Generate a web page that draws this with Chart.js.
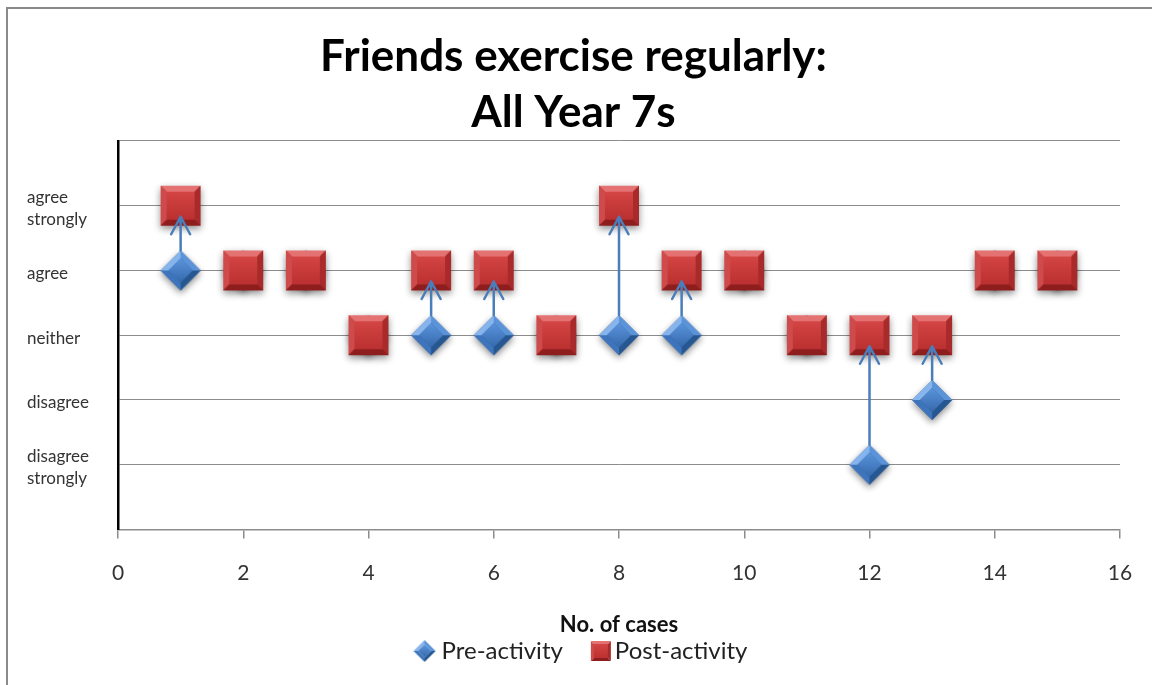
<!DOCTYPE html>
<html lang="en">
<head>
<meta charset="UTF-8">
<title>Friends exercise regularly: All Year 7s</title>
<script src="https://cdn.jsdelivr.net/npm/chart.js@4.4.0/dist/chart.umd.min.js"></script>
<style>
  html, body { margin: 0; padding: 0; background: #ffffff; }
  #wrap { width: 1152px; height: 685px; position: relative; }
</style>
</head>
<body>
<div id="wrap"><canvas id="casesChart" width="1152" height="685"></canvas></div>
<script>
// --- data ---
const caseNumbers = [1, 2, 3, 4, 5, 6, 7, 8, 9, 10, 11, 12, 13, 14, 15];
const preActivity = [4, 4, 4, 3, 3, 3, 3, 3, 3, 4, 3, 1, 2, 4, 4];
const postActivity = [5, 4, 4, 3, 4, 4, 3, 5, 4, 4, 3, 3, 3, 4, 4];
const levelLabels = ['', ['disagree', 'strongly'], 'disagree', 'neither', 'agree', ['agree', 'strongly'], ''];
const titleLines = ['Friends exercise regularly:', 'All Year 7s'];
const seriesNames = ['Pre-activity', 'Post-activity'];

const FONT = "Lato, 'Open Sans', sans-serif";

// bevelled marker images (Excel-style 3D look)
function poly(g, pts, fill) {
  g.beginPath();
  g.moveTo(pts[0][0], pts[0][1]);
  for (let i = 1; i < pts.length; i++) g.lineTo(pts[i][0], pts[i][1]);
  g.closePath();
  g.fillStyle = fill;
  g.fill();
}

function makeSquare(s, withShadow) {
  const pad = withShadow ? Math.round(s * 0.3) : 1;
  const c = document.createElement('canvas');
  c.width = c.height = s + pad * 2;
  const g = c.getContext('2d');
  const x0 = pad, y0 = pad, b = Math.round(s * 0.15);
  if (withShadow) {
    g.save();
    g.shadowColor = 'rgba(0,0,0,0.45)';
    g.shadowBlur = s * 0.18;
    g.shadowOffsetY = s * 0.08;
    g.fillStyle = '#9c2424';
    g.fillRect(x0, y0, s, s);
    g.restore();
  }
  poly(g, [[x0, y0], [x0 + s, y0], [x0 + s - b, y0 + b], [x0 + b, y0 + b]], '#e57272');
  poly(g, [[x0, y0], [x0 + b, y0 + b], [x0 + b, y0 + s - b], [x0, y0 + s]], '#cf4a4a');
  poly(g, [[x0 + s, y0], [x0 + s, y0 + s], [x0 + s - b, y0 + s - b], [x0 + s - b, y0 + b]], '#a82a2a');
  poly(g, [[x0, y0 + s], [x0 + b, y0 + s - b], [x0 + s - b, y0 + s - b], [x0 + s, y0 + s]], '#8e1e1e');
  const grad = g.createLinearGradient(0, y0 + b, 0, y0 + s - b);
  grad.addColorStop(0, '#d44545');
  grad.addColorStop(1, '#bb3030');
  g.fillStyle = grad;
  g.fillRect(x0 + b, y0 + b, s - 2 * b, s - 2 * b);
  return c;
}

function makeDiamond(h, withShadow) {
  const pad = withShadow ? Math.round(h * 0.5) : 1;
  const c = document.createElement('canvas');
  c.width = c.height = 2 * h + pad * 2;
  const g = c.getContext('2d');
  const cx = pad + h, cy = pad + h, k = h * 0.6;
  const T = [cx, cy - h], R = [cx + h, cy], B = [cx, cy + h], L = [cx - h, cy];
  const t = [cx, cy - k], r = [cx + k, cy], bb = [cx, cy + k], l = [cx - k, cy];
  if (withShadow) {
    g.save();
    g.shadowColor = 'rgba(0,0,0,0.45)';
    g.shadowBlur = h * 0.35;
    g.shadowOffsetY = h * 0.15;
    poly(g, [T, R, B, L], '#2d5f9f');
    g.restore();
  }
  poly(g, [L, T, t, l], '#86b4ec');
  poly(g, [T, R, r, t], '#5b93d8');
  poly(g, [L, l, bb, B], '#3d74bb');
  poly(g, [R, B, bb, r], '#275791');
  const grad = g.createLinearGradient(0, cy - k, 0, cy + k);
  grad.addColorStop(0, '#5a94dc');
  grad.addColorStop(1, '#3669ad');
  poly(g, [t, r, bb, l], grad);
  return c;
}

// legend symbols sit a bit right of their box centre
function shifted(img, s) {
  const c = document.createElement('canvas');
  c.width = img.width + 2 * s;
  c.height = img.height;
  c.getContext('2d').drawImage(img, 2 * s, 0);
  return c;
}

const squareImg = makeSquare(40, true);
const diamondImg = makeDiamond(20, true);
const squareLegend = shifted(makeSquare(20, false), 13);
const diamondLegend = shifted(makeDiamond(11, false), 10);

// frame + arrows from pre to post
const framePlugin = {
  id: 'frame',
  beforeDraw(chart) {
    const ctx = chart.ctx;
    ctx.save();
    ctx.strokeStyle = '#8a8a8a';
    ctx.lineWidth = 2;
    ctx.beginPath();
    ctx.moveTo(7, chart.height);
    ctx.lineTo(7, 8);
    ctx.lineTo(chart.width, 8);
    ctx.stroke();
    ctx.restore();
  }
};

const arrowPlugin = {
  id: 'arrows',
  afterDatasetsDraw(chart) {
    const { ctx, scales: { x, y } } = chart;
    ctx.save();
    ctx.strokeStyle = '#4a7ebb';
    ctx.lineWidth = 2.5;
    ctx.lineCap = 'round';
    ctx.lineJoin = 'round';
    caseNumbers.forEach((c, i) => {
      if (preActivity[i] === postActivity[i]) return;
      const px = x.getPixelForValue(c);
      const y0 = y.getPixelForValue(preActivity[i]) - 20;
      const y1 = y.getPixelForValue(postActivity[i]) + 11;
      ctx.beginPath();
      ctx.moveTo(px, y0);
      ctx.lineTo(px, y1);
      ctx.moveTo(px - 9.5, y1 + 17.5);
      ctx.lineTo(px, y1);
      ctx.lineTo(px + 9.5, y1 + 17.5);
      ctx.stroke();
    });
    ctx.restore();
  }
};

new Chart(document.getElementById('casesChart'), {
  type: 'scatter',
  data: {
    datasets: [
      {
        label: seriesNames[1],
        data: caseNumbers.map((c, i) => ({ x: c, y: postActivity[i] })),
        pointStyle: squareImg,
        pointRadius: 20,
        order: 0
      },
      {
        label: seriesNames[0],
        data: caseNumbers.map((c, i) => ({ x: c, y: preActivity[i] })),
        pointStyle: diamondImg,
        pointRadius: 20,
        order: 1
      }
    ]
  },
  options: {
    responsive: false,
    animation: false,
    layout: { padding: { left: 27, right: 32, top: 0, bottom: 12 } },
    plugins: {
      tooltip: { enabled: false },
      title: {
        display: true,
        text: titleLines,
        color: '#000',
        font: { family: FONT, size: 44, weight: 'bold', lineHeight: 1.2727 },
        padding: { top: 29, bottom: 0 }
      },
      legend: {
        position: 'bottom',
        labels: {
          usePointStyle: true,
          pointStyleWidth: 30,
          color: '#222',
          font: { family: FONT, size: 24 },
          padding: 10,
          generateLabels() {
            return [
              { text: seriesNames[0], pointStyle: diamondLegend, datasetIndex: 1, fontColor: '#222', lineWidth: 0, hidden: false },
              { text: seriesNames[1], pointStyle: squareLegend, datasetIndex: 0, fontColor: '#222', lineWidth: 0, hidden: false }
            ];
          }
        },
        onClick: null
      }
    },
    scales: {
      x: {
        type: 'linear',
        min: 0,
        max: 16,
        afterFit(scale) {
          scale.height = 99.5;
          scale.paddingRight = 0;
        },
        ticks: { stepSize: 2, color: '#333', font: { family: FONT, size: 21 }, padding: 22 },
        grid: { drawOnChartArea: false, drawTicks: true, tickLength: 9, color: '#8c8c8c', lineWidth: 1.5 },
        border: { color: '#8c8c8c', width: 1.5 },
        title: {
          display: true,
          text: 'No. of cases',
          color: '#111',
          font: { family: FONT, size: 22, weight: 'bold' },
          padding: { top: 10, bottom: -9 }
        }
      },
      y: {
        type: 'linear',
        min: 0,
        max: 6,
        afterFit(scale) { scale.width = 91; },
        ticks: {
          stepSize: 1,
          crossAlign: 'far',
          labelOffset: 3,
          color: '#333',
          font: { family: FONT, size: 17, lineHeight: 1.3 },
          callback: v => levelLabels[v]
        },
        grid: { drawTicks: false, color: '#8c8c8c', lineWidth: 1 },
        border: { color: '#000', width: 2.5 }
      }
    }
  },
  plugins: [framePlugin, arrowPlugin]
});
</script>
</body>
</html>
